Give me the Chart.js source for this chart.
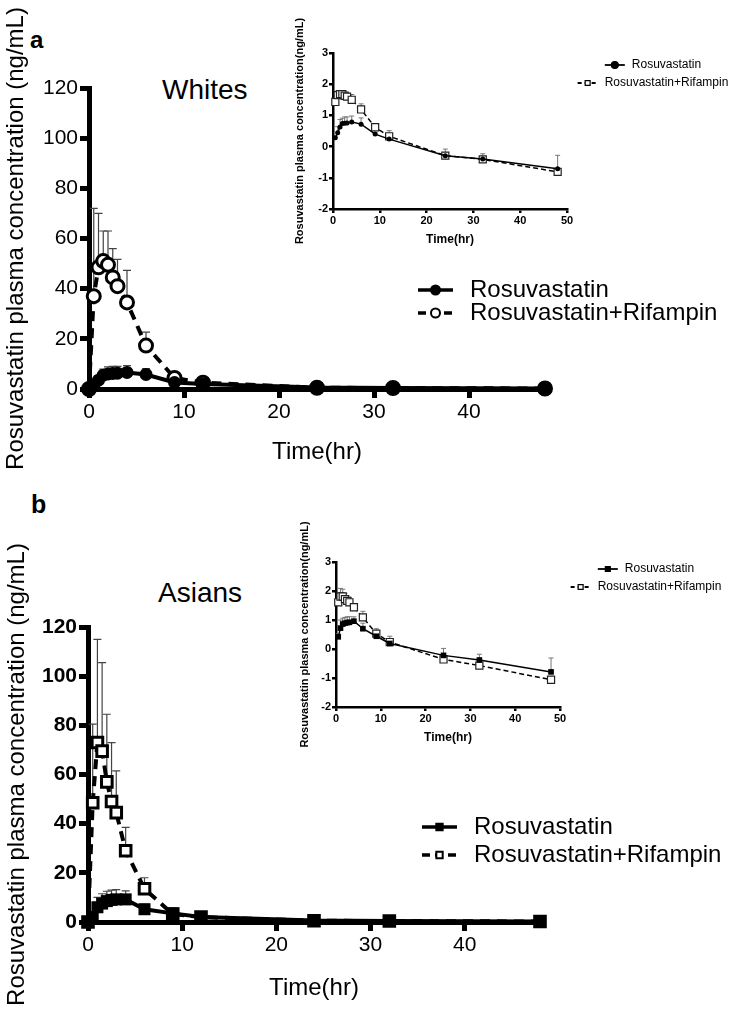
<!DOCTYPE html>
<html>
<head>
<meta charset="utf-8">
<script src="https://cdn.jsdelivr.net/npm/chart.js@4.4.0/dist/chart.umd.min.js"></script>
<style>
  body { margin: 0; background: #fff; width: 744px; height: 1020px; position: relative; overflow: hidden; font-family: "Liberation Sans", Arial, sans-serif; }
  canvas { position: absolute; }
  .lbl { position: absolute; line-height: 1; color: #000; white-space: nowrap; }
</style>
</head>
<body>
<div class="lbl" style="left:30px;top:28px;font-size:24px;font-weight:bold">a</div>
<div class="lbl" style="left:31px;top:492px;font-size:25px;font-weight:bold">b</div>
<div class="lbl" style="left:162px;top:76px;font-size:28px">Whites</div>
<div class="lbl" style="left:158px;top:579px;font-size:28px">Asians</div>

<canvas id="mainA" width="744" height="480" style="left:0;top:0"></canvas>
<canvas id="mainB" width="744" height="530" style="left:0;top:490px"></canvas>
<canvas id="logA" width="454" height="255" style="left:290px;top:0"></canvas>
<canvas id="logB" width="454" height="250" style="left:290px;top:500px"></canvas>

<script>
// sampling times (hr)
const times = [0, 0.5, 1, 1.5, 2, 2.5, 3, 4, 6, 9, 12, 24, 32, 48];
const logTimes = [0.5, 1, 1.5, 2, 2.5, 3, 4, 6, 9, 12, 24, 32, 48];

// Whites, ng/mL (mean, SD)
const rosuW   = [0, 1.5, 3.5, 5.5, 6.0, 6.2, 6.3, 6.6, 5.8, 2.6, 2.0, 0.6, 0.4, 0.2];
const rosuWsd = [0, 1.0, 1.8, 2.4, 2.8, 2.8, 2.7, 2.7, 2.3, 0, 0, 0, 0, 0];
const rifW    = [0, 37, 48.5, 51, 49.5, 44.5, 41, 34.5, 17.3, 4.4, 2.5, 0.5, 0.4, 0.2];
const rifWsd  = [0, 35, 21.5, 12, 13.5, 11.5, 10.7, 12.8, 5.4, 0, 0, 0, 0, 0];

// Whites, log10 concentration
const logRosuW   = [0.28, 0.44, 0.63, 0.74, 0.75, 0.76, 0.79, 0.72, 0.40, 0.24, -0.29, -0.40, -0.71];
const logRosuWsd = [0, 0.2, 0.24, 0.17, 0.2, 0.19, 0.19, 0.2, 0.04, 0.05, 0, 0.03, 0.43];
const logRifW    = [1.43, 1.65, 1.68, 1.68, 1.63, 1.60, 1.50, 1.19, 0.62, 0.33, -0.29, -0.41, -0.81];
const logRifWsd  = [0.1, 0.13, 0.08, 0.06, 0.06, 0.07, 0.17, 0.18, 0.07, 0.18, 0.21, 0.18, 0.1];

// Asians, ng/mL (mean, SD)
const rosuA   = [0, 2, 6, 7.5, 8.5, 9, 9.2, 9.2, 5.2, 3.5, 2.0, 0.6, 0.4, 0.2];
const rosuAsd = [0, 1, 4, 4, 4, 4, 4, 3.5, 2, 0, 0, 0, 0, 0];
const rifA    = [0, 48.5, 73, 69.5, 57, 49, 44.5, 29, 13.5, 3.2, 2.0, 0.5, 0.4, 0.2];
const rifAsd  = [0, 32, 42, 36, 27.5, 24, 17, 9.5, 4.5, 0, 0, 0, 0, 0];

// Asians, log10 concentration
const logRosuA   = [0.42, 0.72, 0.86, 0.89, 0.91, 0.92, 0.96, 0.70, 0.44, 0.19, -0.22, -0.38, -0.79];
const logRosuAsd = [0.1, 0.28, 0.2, 0.2, 0.2, 0.19, 0.15, 0.19, 0.1, 0.1, 0.24, 0.2, 0.48];
const logRifA    = [1.61, 1.81, 1.81, 1.72, 1.66, 1.61, 1.44, 1.09, 0.53, 0.24, -0.36, -0.57, -1.06];
const logRifAsd  = [0.1, 0.28, 0.25, 0.2, 0.17, 0.17, 0.1, 0.21, 0.17, 0.2, 0.2, 0.2, 0.1];

const labels = ['Rosuvastatin', 'Rosuvastatin+Rifampin'];
const mainTicks = [0, 20, 40, 60, 80, 100, 120];

Chart.defaults.font.family = '"Liberation Sans", Arial, sans-serif';
Chart.defaults.color = '#000';

const pts = (xs, ys) => xs.map((x, i) => ({ x: x, y: ys[i] }));

// upward SD bars, drawn under the markers
const errorBars = {
  id: 'errorBars',
  beforeDatasetsDraw(chart, args, o) {
    const ctx = chart.ctx, xs = chart.scales.x, ys = chart.scales.y;
    ctx.save();
    ctx.strokeStyle = o.color;
    ctx.lineWidth = o.width;
    chart.data.datasets.forEach(ds => {
      if (!ds.sd) return;
      ds.data.forEach((p, i) => {
        const sd = ds.sd[i];
        if (!sd) return;
        const x = xs.getPixelForValue(p.x);
        const y0 = ys.getPixelForValue(p.y);
        const y1 = ys.getPixelForValue(p.y + sd);
        ctx.beginPath();
        ctx.moveTo(x, y0); ctx.lineTo(x, y1);
        ctx.moveTo(x - o.cap / 2, y1); ctx.lineTo(x + o.cap / 2, y1);
        ctx.stroke();
      });
    });
    ctx.restore();
  }
};

function marker(ctx, style, x, y, r) {
  ctx.beginPath();
  if (style === 'rect') {
    const s = r * Math.SQRT1_2;
    ctx.rect(x - s, y - s, 2 * s, 2 * s);
  } else {
    ctx.arc(x, y, r, 0, Math.PI * 2);
  }
  ctx.fill();
  ctx.stroke();
}

// legend drawn at a free spot on the canvas
const sideLegend = {
  id: 'sideLegend',
  afterDraw(chart, args, o) {
    const ctx = chart.ctx;
    ctx.save();
    ctx.font = o.font;
    ctx.textBaseline = 'middle';
    chart.data.datasets.forEach((ds, i) => {
      const y = o.y + i * o.step;
      const tw = ctx.measureText(ds.label).width;
      const x = o.align === 'center' ? o.x - (o.icon + o.gap + tw) / 2 : o.x;
      ctx.strokeStyle = '#000';
      ctx.lineWidth = o.lineWidth;
      ctx.setLineDash(ds.borderDash && ds.borderDash.length ? o.dash : []);
      ctx.beginPath(); ctx.moveTo(x, y); ctx.lineTo(x + o.icon, y); ctx.stroke();
      ctx.setLineDash([]);
      ctx.fillStyle = ds.pointBackgroundColor;
      ctx.lineWidth = o.pointBorder;
      marker(ctx, ds.pointStyle, x + o.icon / 2, y, o.radius);
      ctx.fillStyle = '#000';
      ctx.fillText(ds.label, x + o.icon + o.gap, y);
    });
    ctx.restore();
  }
};

function axisStyle(w, len) {
  return {
    grid: { drawOnChartArea: false, tickLength: len, tickWidth: w, tickColor: '#000', lineWidth: w },
    border: { width: w, color: '#000' }
  };
}

function mainChart(id, d, o) {
  new Chart(document.getElementById(id), {
    type: 'line',
    data: {
      datasets: [
        { label: labels[0], data: pts(times, d.rosu), sd: d.rosuSd,
          borderColor: '#000', borderWidth: 4, pointStyle: o.style,
          pointRadius: o.fillR, pointBackgroundColor: '#000', pointBorderWidth: 0 },
        { label: labels[1], data: pts(times, d.rif), sd: d.rifSd,
          borderColor: '#000', borderWidth: 4, borderDash: [10, 7], pointStyle: o.style,
          pointRadius: o.openR, pointBackgroundColor: '#fff', pointBorderColor: '#000', pointBorderWidth: 3 }
      ]
    },
    options: {
      responsive: false, animation: false,
      layout: { padding: { top: o.top, right: o.right, left: 0, bottom: 0 } },
      elements: { line: { tension: 0, fill: false } },
      datasets: { line: { clip: false } },
      plugins: {
        legend: { display: false }, tooltip: { enabled: false },
        errorBars: { color: '#444', width: 1.2, cap: 8 },
        sideLegend: Object.assign({ font: '24px "Liberation Sans", Arial, sans-serif', icon: 35, gap: 17,
          lineWidth: 3.5, dash: [8, 5], radius: 4.5, pointBorder: 2, align: 'left' }, o.legend)
      },
      scales: {
        x: Object.assign({
          type: 'linear', min: 0, max: 48,
          ticks: { stepSize: 10, includeBounds: false, padding: 2, font: { size: 21 } },
          title: { display: true, text: 'Time(hr)', font: { size: 24 }, padding: { top: 0, bottom: o.xTitlePad } },
          afterFit: s => { s.height = o.xh; }
        }, axisStyle(5, 9)),
        y: Object.assign({
          min: 0, max: 120,
          afterBuildTicks: s => { s.ticks = mainTicks.map(v => ({ value: v })); },
          ticks: { padding: 2, font: { size: 21, weight: o.yBold ? 'bold' : 'normal' } },
          title: { display: true, text: 'Rosuvastatin plasma concentration (ng/mL)', font: { size: 24 },
            padding: { top: o.yTitlePad, bottom: 0 } },
          afterFit: s => { s.width = o.yw; }
        }, axisStyle(5, 9))
      }
    },
    plugins: [errorBars, sideLegend]
  });
}

function logChart(id, d, o) {
  new Chart(document.getElementById(id), {
    type: 'line',
    data: {
      datasets: [
        { label: labels[0], data: pts(logTimes, d.rosu), sd: d.rosuSd,
          borderColor: '#000', borderWidth: 1.5, pointStyle: o.style,
          pointRadius: o.fillR, pointBackgroundColor: '#000', pointBorderWidth: 0 },
        { label: labels[1], data: pts(logTimes, d.rif), sd: d.rifSd,
          borderColor: '#000', borderWidth: 1.5, borderDash: [5, 3], pointStyle: 'rect',
          pointRadius: 5, pointBackgroundColor: '#fff', pointBorderColor: '#222', pointBorderWidth: 1.2 }
      ]
    },
    options: {
      responsive: false, animation: false,
      layout: { padding: { top: o.top, right: o.right, left: 0, bottom: 0 } },
      elements: { line: { tension: 0, fill: false } },
      datasets: { line: { clip: false } },
      plugins: {
        legend: { display: false }, tooltip: { enabled: false },
        errorBars: { color: '#777', width: 1, cap: 5 },
        sideLegend: Object.assign({ font: '12px "Liberation Sans", Arial, sans-serif', icon: 20, gap: 7,
          lineWidth: 1.8, dash: [4, 3], radius: 3.5, pointBorder: 1.2, align: 'center', step: 18 }, o.legend)
      },
      scales: {
        x: Object.assign({
          type: 'linear', min: 0, max: 50,
          ticks: { stepSize: 10, padding: 1, font: { size: 11, weight: 'bold' } },
          title: { display: true, text: 'Time(hr)', font: { size: 12, weight: 'bold' }, padding: { top: 0, bottom: o.xTitlePad } },
          afterFit: s => { s.height = o.xh; }
        }, axisStyle(2.5, 4)),
        y: Object.assign({
          min: -2, max: 3,
          ticks: { stepSize: 1, padding: 1, font: { size: 11, weight: 'bold' } },
          title: { display: true, text: 'Rosuvastatin plasma concentration(ng/mL)', font: { size: 11, weight: 'bold' },
            padding: { top: o.yTitlePad, bottom: 0 } },
          afterFit: s => { s.width = o.yw; }
        }, axisStyle(2.5, 4))
      }
    },
    plugins: [errorBars, sideLegend]
  });
}

mainChart('mainA', { rosu: rosuW, rosuSd: rosuWsd, rif: rifW, rifSd: rifWsd },
  { style: 'circle', fillR: 6.5, openR: 6.5, top: 88, right: 199, xh: 91, yw: 89,
    xTitlePad: 13, yTitlePad: 2, yBold: false, legend: { x: 418, y: 290, step: 23 } });

mainChart('mainB', { rosu: rosuA, rosuSd: rosuAsd, rif: rifA, rifSd: rifAsd },
  { style: 'rect', fillR: 8.5, openR: 7.5, top: 137, right: 204, xh: 98, yw: 88,
    xTitlePad: 17, yTitlePad: 3, yBold: true, legend: { x: 422, y: 337, step: 28 } });

logChart('logA', { rosu: logRosuW, rosuSd: logRosuWsd, rif: logRifW, rifSd: logRifWsd },
  { style: 'circle', fillR: 2.5, top: 53, right: 177, xh: 46, yw: 43,
    xTitlePad: 8, yTitlePad: 3, legend: { x: 363, y: 65 } });

logChart('logB', { rosu: logRosuA, rosuSd: logRosuAsd, rif: logRifA, rifSd: logRifAsd },
  { style: 'rect', fillR: 4, top: 62, right: 184, xh: 43, yw: 46,
    xTitlePad: 5, yTitlePad: 8, legend: { x: 356, y: 69 } });
</script>
</body>
</html>
